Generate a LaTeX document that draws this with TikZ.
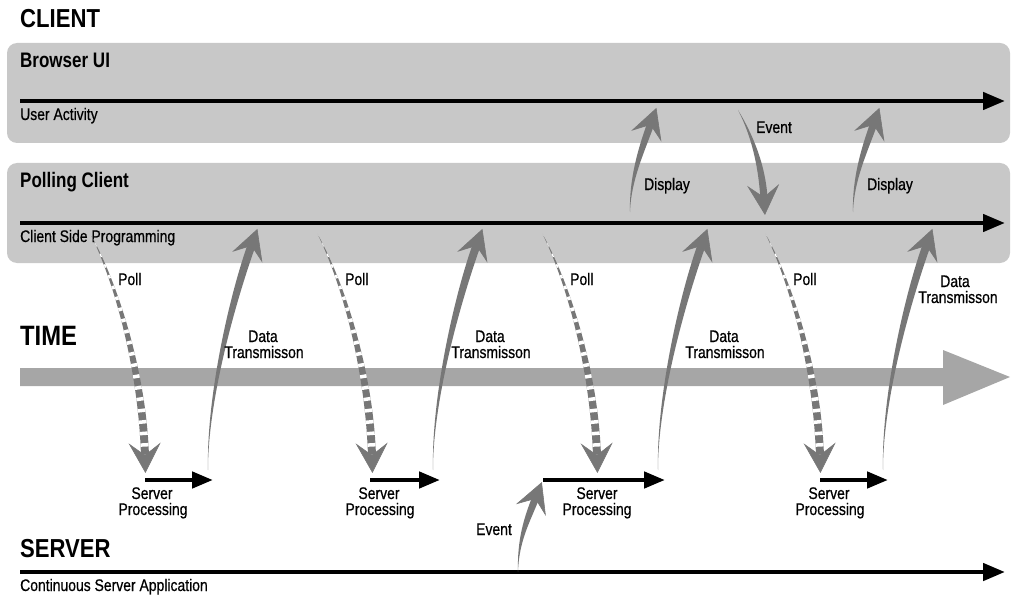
\documentclass[tikz,border=0pt]{standalone}
\usepackage{fontspec}
\setmainfont{Liberation Sans}
\newfontfamily\headfont[FakeStretch=0.85]{Liberation Sans}
\newfontfamily\lanefont[FakeStretch=0.81]{Liberation Sans}
\newfontfamily\labelfont[FakeStretch=0.83, FakeBold=0.6]{Liberation Sans}
\usetikzlibrary{calc,arrows.meta}

\definecolor{lanegray}{HTML}{C8C8C8}
\definecolor{flowgray}{HTML}{777777}
\definecolor{timegray}{HTML}{A6A6A6}

\tikzset{
  headtext/.style={anchor=base west, inner sep=0pt, font=\headfont\bfseries\fontsize{26}{30}\selectfont},
  timetext/.style={anchor=base west, inner sep=0pt, font=\headfont\bfseries\fontsize{28}{32}\selectfont},
  lanetext/.style={anchor=base west, inner sep=0pt, font=\lanefont\bfseries\fontsize{21}{25}\selectfont},
  subtext/.style={anchor=base west, inner sep=0pt, font=\labelfont\fontsize{16.8}{19}\selectfont},
  lbl/.style={anchor=base, inner sep=0pt, font=\labelfont\fontsize{16.8}{19}\selectfont},
  lblw/.style={anchor=base west, inner sep=0pt, font=\labelfont\fontsize{16.8}{19}\selectfont},
  lane/.style={fill=lanegray, rounded corners=10pt},
  timeline/.style={line width=4.5pt, -{Triangle[length=22pt,width=17pt]}},
  procline/.style={line width=4.5pt, -{Triangle[length=21pt,width=16pt]}},
}

% tapered shaft: #1 path command, #2 start, #3 and #4 controls, #5 shaft end,
% #6 half width at the shaft end, #7 half width near the start
\newcommand\taperpath[7]{%
  #1 (#2) .. controls ($(#3)!#7!90:(#4)$) and ($(#4)!#6!90:(#5)$) .. ($(#5)!#6!-90:(#4)$)
    -- ($(#5)!#6!90:(#4)$) .. controls ($(#4)!#6!-90:(#5)$) and ($(#3)!#7!-90:(#4)$) .. (#2) -- cycle;}
% arrow head at shaft end #1, oriented away from control #2
\newcommand\flowhead[2]{%
  \draw[flowgray, line width=0.6pt, -{Stealth[length=30pt,width=32pt,inset=12pt]}]
    ($(#1)!10pt!(#2)$) -- ($(#1)!-16pt!(#2)$);}
\newcommand\flowarrow[6]{%
  \taperpath{\fill[flowgray]}{#1}{#2}{#3}{#4}{#5}{#6}%
  \flowhead{#4}{#3}}
\newcommand\pollarrow[6]{%
  \taperpath{\fill[flowgray]}{#1}{#2}{#3}{#4}{#5}{#6}%
  \begin{scope}
    \taperpath{\clip}{#1}{#2}{#3}{#4}{#5}{#6}%
    \draw[white, line width=14pt, dash pattern=on 3.5pt off 8pt] (#1) .. controls (#2) and (#3) .. (#4);
  \end{scope}
  \flowhead{#4}{#3}}

\begin{document}
\begin{tikzpicture}[x=1pt, y=-1pt]
\useasboundingbox (0,0) rectangle (1011,596);

% lanes
\path[lane] (7,43) rectangle (1010,143);
\path[lane] (7,163) rectangle (1010,263);

% headings
\node[headtext] (client) at (20,28) {CLIENT};
\node[lanetext] (browser) at (20,68) {Browser UI};
\node[subtext] (useract) at (20,120) {User Activity};
\node[lanetext] (polling) at (20,188) {Polling Client};
\node[subtext] (clientside) at (20,242) {Client Side Programming};
\node[timetext] (time) at (20,345) {TIME};
\node[headtext] (server) at (20,557) {SERVER};
\node[subtext] (contserver) at (20,591) {Continuous Server Application};

% time lines
\coordinate (uiA) at (20,101);   \coordinate (uiB) at (1005,101);
\coordinate (pcA) at (20,223);   \coordinate (pcB) at (1005,223);
\coordinate (svA) at (20,572);   \coordinate (svB) at (1005,572);
\draw[timeline] (uiA) -- (uiB);
\draw[timeline] (pcA) -- (pcB);
\draw[timeline] (svA) -- (svB);

% time arrow
\fill[timegray] (20,368) -- (943,368) -- (943,350) -- (1010,377) -- (943,405) -- (943,386) -- (20,386) -- cycle;

% server processing
\coordinate (sp1a) at (145,480); \coordinate (sp1b) at (213,480);
\coordinate (sp2a) at (370,480); \coordinate (sp2b) at (440,480);
\coordinate (sp3a) at (543,480); \coordinate (sp3b) at (665,480);
\coordinate (sp4a) at (820,480); \coordinate (sp4b) at (888,480);
\draw[procline] (sp1a) -- (sp1b);
\draw[procline] (sp2a) -- (sp2b);
\draw[procline] (sp3a) -- (sp3b);
\draw[procline] (sp4a) -- (sp4b);
\node[lbl] (sv1) at (152,499) {Server};  \node[lbl] (pr1) at (153,515) {Processing};
\node[lbl] (sv2) at (379,499) {Server};  \node[lbl] (pr2) at (380,515) {Processing};
\node[lbl] (sv3) at (597,499) {Server};  \node[lbl] (pr3) at (597,515) {Processing};
\node[lbl] (sv4) at (829,499) {Server};  \node[lbl] (pr4) at (830,515) {Processing};

% polls
\coordinate (pl1s) at (90,233);  \coordinate (pl1e) at (145,457);
\coordinate (pl2s) at (317,233); \coordinate (pl2e) at (372,457);
\coordinate (pl3s) at (542,233); \coordinate (pl3e) at (597,457);
\coordinate (pl4s) at (765,233); \coordinate (pl4e) at (820,457);
\pollarrow{pl1s}{120,290}{143,380}{pl1e}{4pt}{1.6pt}
\pollarrow{pl2s}{347,290}{370,380}{pl2e}{4pt}{1.6pt}
\pollarrow{pl3s}{572,290}{595,380}{pl3e}{4pt}{1.6pt}
\pollarrow{pl4s}{795,290}{818,380}{pl4e}{4pt}{1.6pt}
\node[lblw] (poll1) at (118,285) {Poll};
\node[lblw] (poll2) at (345,285) {Poll};
\node[lblw] (poll3) at (570,285) {Poll};
\node[lblw] (poll4) at (793,285) {Poll};

% data transmissions
\coordinate (dt1s) at (208,470); \coordinate (dt1e) at (252,244);
\coordinate (dt2s) at (433,470); \coordinate (dt2e) at (477,244);
\coordinate (dt3s) at (658,470); \coordinate (dt3e) at (702,244);
\coordinate (dt4s) at (883,470); \coordinate (dt4e) at (927,244);
\flowarrow{dt1s}{207,400}{232,300}{dt1e}{4pt}{0.8pt}
\flowarrow{dt2s}{432,400}{457,300}{dt2e}{4pt}{0.8pt}
\flowarrow{dt3s}{657,400}{682,300}{dt3e}{4pt}{0.8pt}
\flowarrow{dt4s}{882,400}{907,300}{dt4e}{4pt}{0.8pt}
\node[lbl] (da1) at (263,342) {Data}; \node[lbl] (tr1) at (264,358) {Transmisson};
\node[lbl] (da2) at (490,342) {Data}; \node[lbl] (tr2) at (491,358) {Transmisson};
\node[lbl] (da3) at (724,342) {Data}; \node[lbl] (tr3) at (725,358) {Transmisson};
\node[lbl] (da4) at (955,287) {Data}; \node[lbl] (tr4) at (958,303) {Transmisson};

% display updates
\coordinate (ds1s) at (630,212); \coordinate (ds1e) at (651,123);
\coordinate (ds2s) at (853,212); \coordinate (ds2e) at (874,123);
\flowarrow{ds1s}{630,180}{641,151}{ds1e}{3.6pt}{1pt}
\flowarrow{ds2s}{853,180}{864,151}{ds2e}{3.6pt}{1pt}
\node[lbl] (disp1) at (667,190) {Display};
\node[lbl] (disp2) at (890,190) {Display};

% user event
\coordinate (ev1s) at (738,110); \coordinate (ev1e) at (764,199);
\flowarrow{ev1s}{752,135}{762,165}{ev1e}{3.6pt}{1pt}
\node[lbl] (evt1) at (774,133) {Event};

% server event
\coordinate (ev2s) at (518,572); \coordinate (ev2e) at (536,497);
\flowarrow{ev2s}{518,540}{527,520}{ev2e}{3.6pt}{1pt}
\node[lbl] (evt2) at (494,535) {Event};
\end{tikzpicture}
\end{document}
